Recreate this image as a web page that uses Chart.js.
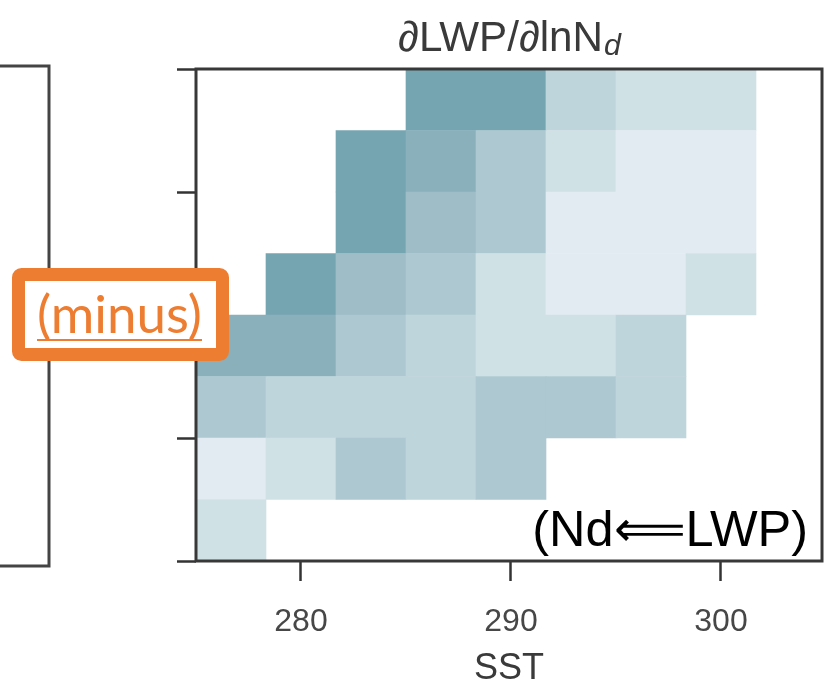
<!DOCTYPE html>
<html>
<head>
<meta charset="utf-8">
<script src="https://cdn.jsdelivr.net/npm/chart.js@4.4.1/dist/chart.umd.min.js"></script>
<style>
  html, body { margin: 0; padding: 0; background: #ffffff; }
  canvas { display: block; }
</style>
</head>
<body>
<canvas id="chart" width="825" height="698"></canvas>
<script>
// SST bin centres (K), one per column
var sstBins = [276.6667, 280, 283.3333, 286.6667, 290, 293.3333, 296.6667, 300];
// dLWP/dlnNd per row, bottom row first (relative level, negative = minus)
var row0 = [-2, null, null, null, null, null, null, null];
var row1 = [-1, -2, -4, -3, -4, null, null, null];
var row2 = [-4, -3, -3, -3, -4, -4, -3, null];
var row3 = [-6, -6, -4, -3, -2, -2, -3, null];
var row4 = [null, -7, -5, -4, -2, -1, -1, -2];
var row5 = [null, null, -7, -5, -4, -1, -1, -1];
var row6 = [null, null, -7, -6, -4, -2, -1, -1];
var row7 = [null, null, null, -7, -7, -3, -2, -2];
var rows = [row0, row1, row2, row3, row4, row5, row6, row7];

var xTicks = [280, 290, 300];
var yTicks = [0, 2, 4, 6, 8];

// colours for levels -1 .. -7
var palette = ["#e3ebf2", "#d0e1e5", "#bed5db", "#adc8d0", "#9ebdc7", "#8ab0bc", "#76a5b2"];

function cellColor(v) {
    return palette[Math.min(palette.length, -v) - 1];
}

var datasets = [];
for (var r = 0; r < rows.length; r++) {
    var pts = [];
    var cols = [];
    for (var i = 0; i < rows[r].length; i++) {
        var v = rows[r][i];
        if (v === null) continue;
        pts.push({ x: sstBins[i], y: [r, r + 1] });
        cols.push(cellColor(v));
    }
    datasets.push({
        data: pts,
        backgroundColor: cols,
        borderWidth: 0,
        grouped: false,
        barPercentage: 1,
        categoryPercentage: 1
    });
}

var sans = "'Liberation Sans', Arial, sans-serif";

function fitFont(ctx, text, style, family, width) {
    ctx.font = style + " 100px " + family;
    return 100 * width / ctx.measureText(text).width;
}

var extras = {
    id: "extras",
    afterDraw: function (chart) {
        var ctx = chart.ctx;
        var a = chart.chartArea;
        ctx.save();

        // frame round the plot
        ctx.strokeStyle = "#383838";
        ctx.lineWidth = 3;
        ctx.strokeRect(a.left, a.top, a.right - a.left, a.bottom - a.top);

        // edge of the neighbouring panel
        ctx.strokeStyle = "#444444";
        ctx.beginPath();
        ctx.moveTo(0, 66);
        ctx.lineTo(49, 66);
        ctx.lineTo(49, 566);
        ctx.lineTo(0, 566);
        ctx.stroke();

        // title with subscript d
        var main = "\u2202LWP/\u2202lnN";
        var s = fitFont(ctx, main, "", sans, 205);
        ctx.font = s + "px " + sans;
        var w1 = ctx.measureText(main).width;
        ctx.font = "italic " + (s * 0.72) + "px " + sans;
        var w2 = ctx.measureText("d").width;
        var x0 = (a.left + a.right) / 2 - (w1 + w2) / 2;
        ctx.fillStyle = "#3a3a3a";
        ctx.textBaseline = "alphabetic";
        ctx.textAlign = "left";
        ctx.font = s + "px " + sans;
        ctx.fillText(main, x0, 51);
        ctx.font = "italic " + (s * 0.72) + "px " + sans;
        ctx.fillText("d", x0 + w1 + 1, 55);

        // (Nd<=LWP) note
        var note = "(Nd\u27F8LWP)";
        var ns = fitFont(ctx, note, "", sans, 276);
        ctx.font = ns + "px " + sans;
        ctx.fillStyle = "#000000";
        ctx.textAlign = "right";
        ctx.fillText(note, 808, 546);

        // (minus) box
        ctx.fillStyle = "#ffffff";
        ctx.strokeStyle = "#ED7D31";
        ctx.lineWidth = 13;
        ctx.lineJoin = "round";
        ctx.beginPath();
        ctx.roundRect(18.5, 274.5, 204, 80, 3);
        ctx.fill();
        ctx.stroke();
        var mtxt = "(minus)";
        var ms = fitFont(ctx, mtxt, "", "Lato, 'Open Sans', sans-serif", 165);
        ctx.font = ms + "px Lato, 'Open Sans', sans-serif";
        ctx.fillStyle = "#ED7D31";
        ctx.textAlign = "center";
        ctx.fillText(mtxt, 119.5, 333);
        ctx.fillRect(37, 339, 165, 2);

        ctx.restore();
    }
};

new Chart(document.getElementById("chart"), {
    type: "bar",
    data: { datasets: datasets },
    plugins: [extras],
    options: {
        responsive: false,
        animation: false,
        layout: { padding: { top: 69, right: 3, left: 0, bottom: 0 } },
        plugins: {
            legend: { display: false },
            tooltip: { enabled: false }
        },
        scales: {
            x: {
                type: "linear",
                min: 275,
                max: 304.81,
                offset: false,
                afterBuildTicks: function (s) { s.ticks = xTicks.map(function (v) { return { value: v }; }); },
                afterFit: function (s) { s.height = 137; },
                grid: { offset: false, drawOnChartArea: false, drawTicks: true, tickLength: 20, tickWidth: 2.5, tickColor: "#333333" },
                border: { display: false },
                ticks: { font: { family: sans, size: 32 }, color: "#474747", padding: 22, maxRotation: 0 },
                title: { display: true, text: "SST", font: { family: sans, size: 36 }, color: "#3a3a3a", padding: { top: 0, bottom: 7 } }
            },
            y: {
                type: "linear",
                min: 0,
                max: 8,
                afterBuildTicks: function (s) { s.ticks = yTicks.map(function (v) { return { value: v }; }); },
                afterFit: function (s) { s.width = 196; },
                grid: { drawOnChartArea: false, drawTicks: true, tickLength: 19, tickWidth: 2.5, tickColor: "#333333" },
                border: { display: false },
                ticks: { display: false }
            }
        }
    }
});
</script>
</body>
</html>
